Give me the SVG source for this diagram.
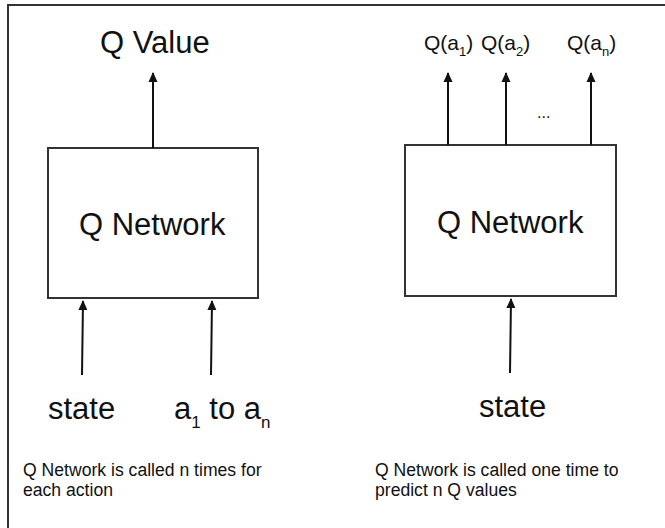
<svg xmlns="http://www.w3.org/2000/svg" width="665" height="528" viewBox="0 0 665 528">
<style>
  text { font-family: "Liberation Sans", Arial, sans-serif; fill: #111; }
  .big { font-size: 31px; }
  .mid { font-size: 21px; }
  .small { font-size: 17.6px; }
  .box { fill: #fff; stroke: #333; stroke-width: 2; }
  .conn line { stroke: #111; stroke-width: 2; }
</style>
<defs>
  <marker id="arr" viewBox="0 0 10 12" refX="9" refY="6" markerWidth="10" markerHeight="12" markerUnits="userSpaceOnUse" orient="auto">
    <path d="M0,1.5 L10,6 L0,10.5 Z" fill="#111"/>
  </marker>
</defs>
<rect width="665" height="528" fill="#fff"/>
<rect id="frame" x="8" y="5" width="700" height="560" fill="none" stroke="#333" stroke-width="2"/>

<g id="left-network">
  <rect class="box" x="48" y="148" width="210" height="150"/>
  <text class="big" x="79" y="235">Q Network</text>
</g>
<g id="right-network">
  <rect class="box" x="405" y="145" width="211" height="151"/>
  <text class="big" x="437" y="233">Q Network</text>
</g>

<g id="q-value"><text class="big" x="100" y="53">Q Value</text></g>
<g id="q-a1"><text class="mid" x="424" y="50">Q(a<tspan font-size="13" dy="6">1</tspan><tspan dy="-6">)</tspan></text></g>
<g id="q-a2"><text class="mid" x="481" y="50">Q(a<tspan font-size="13" dy="6">2</tspan><tspan dy="-6">)</tspan></text></g>
<g id="q-an"><text class="mid" x="567" y="50">Q(a<tspan font-size="13" dy="6">n</tspan><tspan dy="-6">)</tspan></text></g>
<g id="dots"><text x="537" y="118" font-size="16">...</text></g>

<g id="left-state"><text class="big" x="48" y="419">state</text></g>
<g id="left-actions"><text class="big" x="174" y="419">a<tspan font-size="17" dy="9">1</tspan><tspan dy="-9"> to a</tspan><tspan font-size="17" dy="9">n</tspan></text></g>
<g id="right-state"><text class="big" x="479" y="417">state</text></g>

<g id="left-caption">
  <text class="small" x="23" y="476">Q Network is called n times for</text>
  <text class="small" x="23" y="496">each action</text>
</g>
<g id="right-caption">
  <text class="small" x="375" y="476">Q Network is called one time to</text>
  <text class="small" x="375" y="496">predict n Q values</text>
</g>

<g id="connectors" class="conn">
  <line x1="153" y1="148" x2="153" y2="73" marker-end="url(#arr)"/>
  <line x1="82" y1="375" x2="83" y2="301" marker-end="url(#arr)"/>
  <line x1="211" y1="375" x2="212" y2="301" marker-end="url(#arr)"/>
  <line x1="448" y1="145" x2="448" y2="73" marker-end="url(#arr)"/>
  <line x1="506" y1="145" x2="506" y2="73" marker-end="url(#arr)"/>
  <line x1="591" y1="145" x2="591" y2="73" marker-end="url(#arr)"/>
  <line x1="510" y1="373" x2="511" y2="299" marker-end="url(#arr)"/>
</g>
</svg>
